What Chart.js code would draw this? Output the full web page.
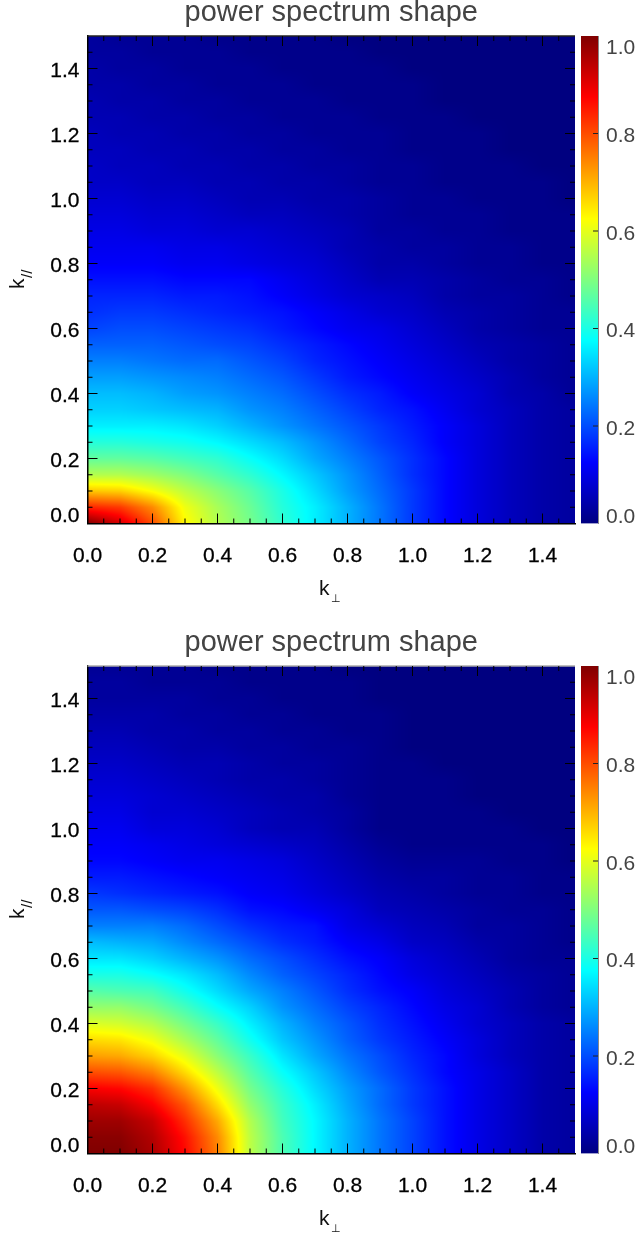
<!DOCTYPE html>
<html>
<head>
<meta charset="utf-8">
<title>power spectrum shape</title>
<script src="https://cdn.jsdelivr.net/npm/chart.js@4"></script>
<style>
    html, body { margin: 0; padding: 0; background: #fff; }
    body { position: relative; width: 639px; height: 1236px; overflow: hidden; }
    canvas { position: absolute; }
</style>
</head>
<body>
<canvas id="topChart" width="663" height="618" style="left:0;top:0"></canvas>
<canvas id="topBar" width="64" height="618" style="left:575px;top:0"></canvas>
<canvas id="bottomChart" width="663" height="618" style="left:0;top:630px"></canvas>
<canvas id="bottomBar" width="64" height="618" style="left:575px;top:630px"></canvas>
<script>
const chartTitle = 'power spectrum shape';
const axisTicks = [0, 0.2, 0.4, 0.6, 0.8, 1.0, 1.2, 1.4];
const barTicks = [0, 0.2, 0.4, 0.6, 0.8, 1.0];
const barRange = [0, 1];

// grid of the map, one row of values per kPerp entry, one value per kPar entry (percent of peak)
const kPerp = [0, 0.1, 0.2, 0.3, 0.4, 0.5, 0.6, 0.7, 0.8, 0.9, 1.0, 1.1, 1.2, 1.3, 1.4, 1.5];
const kPar = [0, 0.05, 0.1, 0.15, 0.2, 0.25, 0.3, 0.35, 0.4, 0.45, 0.5, 0.55, 0.6, 0.65, 0.7,
    0.75, 0.8, 0.85, 0.9, 0.95, 1.0, 1.05, 1.1, 1.15, 1.2, 1.25, 1.3, 1.35, 1.4, 1.45, 1.5];

const topShape = [
    [100, 84, 68, 55, 47, 41, 36, 33, 31, 28, 25, 22, 19, 17, 16, 14, 12, 11, 10, 9, 8, 7, 7, 6, 6, 5, 5, 4, 4, 3, 3],
    [92, 82, 67, 55, 47, 41, 36, 33, 31, 28, 25, 22, 20, 18, 16, 14, 12, 11, 10, 9, 8, 7, 6, 6, 5, 5, 4, 4, 3, 3, 2],
    [80, 74, 62, 53, 46, 40, 36, 32, 30, 27, 24, 22, 20, 18, 16, 14, 12, 11, 9, 8, 7, 6, 6, 5, 5, 4, 4, 3, 3, 2, 2],
    [63, 61, 56, 50, 44, 39, 35, 31, 28, 26, 23, 21, 19, 17, 15, 13, 11, 10, 9, 8, 7, 6, 5, 5, 4, 4, 3, 3, 2, 2, 2],
    [55, 54, 51, 46, 42, 37, 33, 30, 27, 25, 23, 20, 18, 16, 15, 13, 11, 10, 8, 7, 6, 5, 5, 4, 4, 3, 3, 2, 2, 2, 1],
    [49, 48, 46, 42, 38, 34, 30, 27, 25, 23, 21, 19, 17, 15, 14, 13, 10, 9, 8, 6, 5, 5, 4, 4, 3, 3, 2, 2, 2, 1, 1],
    [42, 41, 40, 37, 34, 31, 27, 25, 23, 21, 19, 17, 15, 14, 12, 11, 9, 8, 7, 6, 5, 4, 4, 3, 3, 2, 2, 2, 1, 1, 1],
    [36, 36, 34, 32, 29, 27, 24, 22, 20, 18, 16, 15, 13, 12, 10, 9, 8, 7, 6, 5, 4, 4, 3, 3, 2, 2, 2, 1, 1, 1, 1],
    [30, 30, 28, 27, 25, 23, 21, 19, 17, 15, 14, 13, 11, 10, 8, 7, 6, 5, 5, 4, 4, 3, 3, 2, 2, 2, 1, 1, 1, 1, 0],
    [24, 24, 23, 22, 21, 19, 18, 16, 15, 13, 12, 11, 10, 8, 7, 5, 4, 4, 3, 3, 3, 2, 2, 2, 2, 1, 1, 1, 1, 0, 0],
    [18, 18, 18, 17, 17, 16, 15, 14, 12, 11, 10, 9, 8, 7, 6, 5, 4, 3, 3, 2, 2, 2, 2, 1, 1, 1, 1, 1, 0, 0, 0],
    [13, 13, 13, 13, 13, 12, 12, 11, 10, 9, 8, 7, 6, 5, 4, 4, 3, 3, 2, 2, 2, 1, 1, 1, 1, 1, 0, 0, 0, 0, 0],
    [9, 9, 9, 9, 9, 9, 9, 8, 8, 7, 6, 5, 4, 4, 3, 3, 2, 2, 2, 2, 1, 1, 1, 1, 1, 0, 0, 0, 0, 0, 0],
    [6, 6, 6, 6, 6, 6, 6, 6, 5, 5, 4, 4, 3, 3, 3, 2, 2, 2, 1, 1, 1, 1, 1, 0, 0, 0, 0, 0, 0, 0, 0],
    [4, 4, 4, 4, 4, 4, 4, 4, 4, 3, 3, 3, 2, 2, 2, 2, 1, 1, 1, 1, 1, 1, 0, 0, 0, 0, 0, 0, 0, 0, 0],
    [3, 3, 3, 3, 3, 3, 3, 3, 2, 2, 2, 2, 2, 2, 1, 1, 1, 1, 1, 1, 0, 0, 0, 0, 0, 0, 0, 0, 0, 0, 0]
];

const bottomShape = [
    [100, 99, 97, 94, 88, 80, 72, 66, 59, 52, 46, 40, 35, 31, 25, 21, 18, 15, 13, 12, 11, 10, 9, 8, 7, 6, 5, 4, 3, 3, 2],
    [100, 99, 97, 93, 87, 79, 71, 65, 58, 52, 45, 40, 35, 30, 25, 21, 17, 15, 13, 12, 11, 10, 9, 8, 7, 6, 5, 4, 3, 3, 2],
    [96, 95, 93, 88, 83, 75, 67, 61, 55, 49, 44, 38, 33, 29, 25, 20, 16, 14, 12, 11, 9, 8, 8, 7, 6, 5, 4, 4, 3, 2, 2],
    [87, 86, 83, 79, 73, 66, 60, 54, 49, 44, 39, 35, 30, 26, 23, 19, 15, 13, 11, 10, 9, 8, 7, 6, 5, 4, 4, 3, 3, 2, 2],
    [75, 74, 71, 66, 61, 56, 51, 47, 43, 38, 34, 31, 27, 23, 20, 17, 14, 12, 11, 9, 8, 7, 6, 5, 5, 4, 3, 3, 2, 2, 1],
    [56, 56, 55, 52, 49, 46, 43, 39, 36, 33, 29, 26, 23, 20, 17, 14, 12, 11, 10, 8, 6, 6, 5, 4, 4, 3, 3, 2, 2, 1, 1],
    [45, 45, 44, 43, 41, 38, 35, 32, 30, 27, 25, 22, 20, 17, 15, 13, 11, 10, 9, 7, 5, 5, 4, 4, 3, 3, 2, 2, 1, 1, 1],
    [37, 37, 37, 36, 34, 32, 29, 27, 25, 23, 21, 19, 17, 15, 14, 11, 9, 8, 7, 6, 5, 4, 4, 3, 3, 2, 2, 1, 1, 1, 1],
    [30, 30, 30, 29, 28, 26, 24, 22, 21, 19, 17, 16, 14, 12, 10, 9, 7, 6, 5, 4, 3, 3, 2, 2, 2, 2, 1, 1, 1, 1, 0],
    [24, 24, 24, 23, 23, 21, 20, 18, 17, 16, 14, 13, 12, 10, 8, 6, 5, 4, 3, 2, 1, 1, 1, 1, 1, 1, 1, 1, 0, 0, 0],
    [19, 19, 19, 18, 18, 17, 16, 15, 14, 13, 12, 10, 9, 7, 6, 5, 4, 3, 2, 1, 1, 1, 1, 1, 1, 0, 0, 0, 0, 0, 0],
    [14, 14, 14, 14, 14, 13, 13, 12, 11, 10, 9, 8, 7, 6, 5, 4, 3, 3, 2, 1, 1, 1, 1, 1, 0, 0, 0, 0, 0, 0, 0],
    [10, 10, 10, 10, 10, 10, 9, 9, 8, 8, 7, 6, 5, 4, 3, 3, 2, 2, 2, 1, 1, 1, 0, 0, 0, 0, 0, 0, 0, 0, 0],
    [7, 7, 7, 7, 7, 7, 6, 6, 6, 5, 5, 4, 3, 3, 3, 2, 2, 2, 1, 1, 1, 0, 0, 0, 0, 0, 0, 0, 0, 0, 0],
    [4, 4, 4, 4, 4, 4, 4, 4, 4, 3, 3, 3, 2, 2, 2, 2, 1, 1, 1, 1, 0, 0, 0, 0, 0, 0, 0, 0, 0, 0, 0],
    [3, 3, 3, 3, 3, 3, 3, 3, 3, 2, 2, 2, 2, 1, 1, 1, 1, 1, 0, 0, 0, 0, 0, 0, 0, 0, 0, 0, 0, 0, 0]
];

const jetStops = [0, 0.125, 0.375, 0.625, 0.875, 1];
const jetColors = [[0, 0, 128], [0, 0, 255], [0, 255, 255], [255, 255, 0], [255, 0, 0], [128, 0, 0]];

const FONT = '"Liberation Sans", Arial, sans-serif';

function jet(v) {
    const t = Math.min(1, Math.max(0, v));
    let i = 0;
    while (i < jetStops.length - 2 && t > jetStops[i + 1]) i++;
    const f = (t - jetStops[i]) / (jetStops[i + 1] - jetStops[i]);
    return jetColors[i].map((c, n) => c + (jetColors[i + 1][n] - c) * f);
}

function gridSpot(list, value) {
    let i = 0;
    while (i < list.length - 2 && value > list[i + 1]) i++;
    const f = (value - list[i]) / (list[i + 1] - list[i]);
    return [i, Math.min(1, Math.max(0, f))];
}

// paints the map smoothly under the axes, like shade_surf with interpolated shading
const shadePlugin = {
    id: 'shade',
    beforeDraw(chart, args, opts) {
        const area = chart.chartArea;
        const left = Math.round(area.left);
        const top = Math.round(area.top);
        const w = Math.round(area.right) - left;
        const h = Math.round(area.bottom) - top;
        const img = chart.ctx.createImageData(w, h);
        for (let py = 0; py < h; py++) {
            const [j, fy] = gridSpot(kPar, chart.scales.y.getValueForPixel(top + py + 0.5));
            for (let px = 0; px < w; px++) {
                const [i, fx] = gridSpot(kPerp, chart.scales.x.getValueForPixel(left + px + 0.5));
                const s = opts.values;
                const v = (s[i][j] * (1 - fx) * (1 - fy) + s[i + 1][j] * fx * (1 - fy) +
                    s[i][j + 1] * (1 - fx) * fy + s[i + 1][j + 1] * fx * fy) / 100;
                const c = jet(v);
                const o = (py * w + px) * 4;
                img.data[o] = c[0];
                img.data[o + 1] = c[1];
                img.data[o + 2] = c[2];
                img.data[o + 3] = 255;
            }
        }
        chart.ctx.putImageData(img, left, top);
    }
};

function tick(ctx, x1, y1, x2, y2) {
    ctx.beginPath();
    ctx.moveTo(x1, y1);
    ctx.lineTo(x2, y2);
    ctx.stroke();
}

// IDL style inward ticks on all four sides plus the k axis names
const frameDecor = {
    id: 'frameDecor',
    afterDraw(chart, args, opts) {
        const { ctx, chartArea: a, scales } = chart;
        ctx.save();
        ctx.strokeStyle = opts.topColor;
        ctx.lineWidth = 1.5;
        tick(ctx, a.left, a.top, a.right, a.top);
        ctx.strokeStyle = '#000';
        ctx.lineWidth = 1;
        kPar.forEach(k => {
            const len = axisTicks.some(t => Math.abs(t - k) < 1e-6) ? 10 : 5;
            if (k > 0 && k < 1.5) {
                const px = scales.x.getPixelForValue(k);
                const py = scales.y.getPixelForValue(k);
                tick(ctx, px, a.bottom, px, a.bottom - len);
                tick(ctx, px, a.top, px, a.top + len);
                tick(ctx, a.left, py, a.left + len, py);
                tick(ctx, a.right, py, a.right - len, py);
            }
        });

        ctx.fillStyle = '#111';
        ctx.textBaseline = 'alphabetic';
        ctx.textAlign = 'left';
        ctx.font = '21px ' + FONT;
        ctx.fillText('k', 319, 595);
        ctx.font = '11px "DejaVu Sans"';
        ctx.fillText('\u22A5', 331, 602);

        ctx.translate(24, 289);
        ctx.rotate(-Math.PI / 2);
        ctx.font = '21px ' + FONT;
        ctx.fillText('k', 0, 0);
        ctx.font = '15px ' + FONT;
        ctx.fillText('//', 11, 8);
        ctx.restore();
    }
};

const barTicksDecor = {
    id: 'barTicksDecor',
    afterDraw(chart) {
        const { ctx, chartArea: a, scales } = chart;
        ctx.save();
        ctx.strokeStyle = '#222';
        ctx.lineWidth = 1;
        barTicks.forEach(t => {
            const py = scales.y.getPixelForValue(t);
            if (t > 0 && t < 1) tick(ctx, a.right, py, a.right - 5, py);
        });
        ctx.restore();
    }
};

function drawMap(canvasId, values, topColor) {
    const cells = [];
    kPerp.forEach((x, i) => kPar.forEach((y, j) => cells.push({ x, y, v: values[i][j] })));

    return new Chart(document.getElementById(canvasId), {
        type: 'scatter',
        data: { datasets: [{ data: cells, pointRadius: 0, showLine: false }] },
        plugins: [shadePlugin, frameDecor],
        options: {
            responsive: false,
            animation: false,
            layout: { padding: { top: 0, right: 88, left: 0, bottom: 0 } },
            plugins: {
                legend: { display: false },
                tooltip: { enabled: false },
                shade: { values },
                frameDecor: { topColor },
                title: {
                    display: true,
                    fullSize: false,
                    text: chartTitle,
                    color: '#444',
                    font: { family: FONT, size: 29, weight: 'normal', lineHeight: 1 },
                    padding: { top: -2, bottom: 9 }
                }
            },
            scales: {
                x: {
                    type: 'linear',
                    min: 0,
                    max: 1.5,
                    afterFit: s => { s.height = 94.5; },
                    border: { color: '#000', width: 1.5 },
                    grid: { display: false, drawTicks: false },
                    ticks: {
                        stepSize: 0.2,
                        includeBounds: false,
                        autoSkip: false,
                        maxRotation: 0,
                        padding: 20,
                        color: '#000',
                        textStrokeColor: '#000',
                        textStrokeWidth: 0.3,
                        font: { family: FONT, size: 21 },
                        callback: v => v.toFixed(1)
                    }
                },
                y: {
                    type: 'linear',
                    min: 0,
                    max: 1.5,
                    afterFit: s => { s.width = 87.5; },
                    border: { color: '#000', width: 1.5 },
                    grid: { display: false, drawTicks: false },
                    ticks: {
                        stepSize: 0.2,
                        includeBounds: false,
                        autoSkip: false,
                        padding: 8,
                        labelOffset: 3,
                        color: '#000',
                        textStrokeColor: '#000',
                        textStrokeWidth: 0.3,
                        font: { family: FONT, size: 21, lineHeight: '20px' },
                        callback: v => (v === 0 ? ['0.0', ''] : v.toFixed(1))
                    }
                }
            }
        }
    });
}

function drawBar(canvasId) {
    return new Chart(document.getElementById(canvasId), {
        type: 'bar',
        data: {
            labels: ['shape'],
            datasets: [{
                data: [barRange],
                barPercentage: 1,
                categoryPercentage: 1,
                backgroundColor(context) {
                    const { ctx, chartArea } = context.chart;
                    if (!chartArea) return '#000';
                    const g = ctx.createLinearGradient(0, chartArea.bottom, 0, chartArea.top);
                    jetStops.forEach((s, i) => g.addColorStop(s, `rgb(${jetColors[i].join(',')})`));
                    return g;
                }
            }]
        },
        plugins: [barTicksDecor],
        options: {
            responsive: false,
            animation: false,
            layout: { padding: { top: 36, left: 6, bottom: 94.5, right: 0 } },
            plugins: { legend: { display: false }, tooltip: { enabled: false } },
            scales: {
                x: { display: false },
                y: {
                    position: 'right',
                    min: 0,
                    max: 1,
                    afterFit: s => { s.width = 41; },
                    border: { color: '#888', width: 1 },
                    grid: { display: false, drawTicks: false },
                    ticks: {
                        stepSize: 0.2,
                        autoSkip: false,
                        padding: 8,
                        labelOffset: 3,
                        color: '#444',
                        font: { family: FONT, size: 21, lineHeight: '19px' },
                        callback(v) {
                            if (v === 0) return ['0.0', ''];
                            if (v === 1) return ['', '1.0'];
                            return v.toFixed(1);
                        }
                    }
                }
            }
        }
    });
}

drawMap('topChart', topShape, '#222');
drawBar('topBar');
drawMap('bottomChart', bottomShape, '#aaa');
drawBar('bottomBar');
</script>
</body>
</html>
